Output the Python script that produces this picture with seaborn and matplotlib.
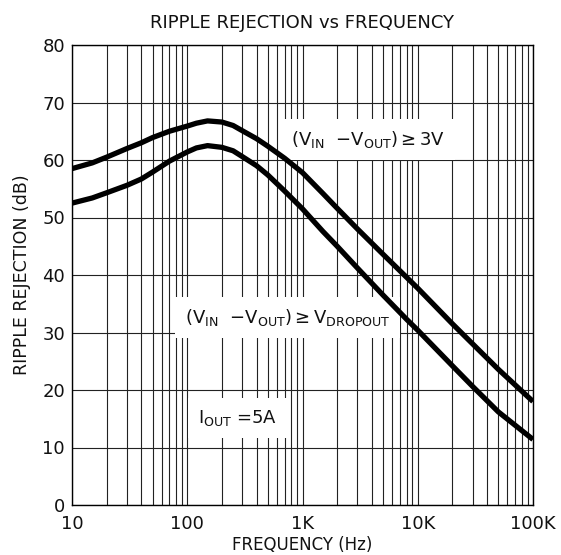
import matplotlib
matplotlib.use("Agg")
import matplotlib.pyplot as plt
import seaborn as sns
import pandas as pd
from matplotlib.ticker import FixedLocator, NullFormatter, LogLocator

# ---- data ----
freq_hz = [10, 15, 20, 30, 40, 50, 70, 100, 120, 150, 200, 250, 300, 400, 500, 700,
           1000, 1500, 2000, 3000, 5000, 8000, 10000, 20000, 30000, 50000, 100000]
rej_3v_db = [58.5, 59.5, 60.5, 62.0, 63.0, 63.9, 65.0, 65.9, 66.4, 66.8, 66.6, 66.0, 65.1,
             63.7, 62.4, 60.3, 57.8, 54.2, 51.6, 48.0, 43.6, 39.6, 37.7, 31.5, 28.0, 23.6, 18.0]
rej_drop_db = [52.5, 53.4, 54.3, 55.6, 56.7, 57.9, 59.8, 61.4, 62.1, 62.5, 62.2, 61.6, 60.6,
               59.0, 57.4, 54.6, 51.5, 47.6, 45.0, 41.2, 36.5, 32.3, 30.4, 24.2, 20.6, 16.2, 11.4]
series_names = ["3V", "DROPOUT"]
x_ticks = [10, 100, 1000, 10000, 100000]
x_tick_labels = ["10", "100", "1K", "10K", "100K"]
y_ticks = [0, 10, 20, 30, 40, 50, 60, 70, 80]

df = pd.DataFrame({
    "freq": freq_hz * 2,
    "db": rej_3v_db + rej_drop_db,
    "series": [series_names[0]] * len(freq_hz) + [series_names[1]] * len(freq_hz),
})

sns.set_style("white")
plt.rcParams["font.family"] = ["DejaVu Sans"]
plt.rcParams["mathtext.default"] = "regular"

fig = plt.figure(figsize=(5.61, 5.55), dpi=100)
ax = fig.add_axes([72 / 561, 50 / 555, 461 / 561, 460 / 555])

sns.lineplot(data=df, x="freq", y="db", hue="series", palette=["black", "black"],
             estimator=None, sort=False, linewidth=3.8, legend=False, ax=ax, zorder=5)
for ln in ax.lines:
    ln.set_solid_joinstyle("round")
    ln.set_solid_capstyle("butt")

ax.set_xscale("log")
ax.set_xlim(10, 100000)
ax.set_ylim(0, 80)

ax.xaxis.set_major_locator(FixedLocator(x_ticks))
ax.set_xticklabels(x_tick_labels)
ax.xaxis.set_minor_locator(LogLocator(base=10, subs=range(2, 10), numticks=20))
ax.xaxis.set_minor_formatter(NullFormatter())
ax.set_yticks(y_ticks)
ax.set_yticklabels([str(v) for v in y_ticks])

ax.grid(True, which="major", axis="both", color="#222222", linewidth=0.8)
ax.grid(True, which="minor", axis="x", color="#222222", linewidth=0.8)
ax.tick_params(axis="both", which="both", length=0, labelsize=13, colors="#111111")
ax.tick_params(axis="x", pad=7)
ax.tick_params(axis="y", pad=5)

for s in ax.spines.values():
    s.set_color("black")
    s.set_linewidth(1.0)

ax.set_xlabel("FREQUENCY (Hz)", fontsize=12, color="#111111", labelpad=2)
ax.set_ylabel("RIPPLE REJECTION (dB)", fontsize=12.5, color="#111111", labelpad=8)
ax.set_title("RIPPLE REJECTION vs FREQUENCY", fontsize=13, color="#111111", pad=12)

box = dict(boxstyle="square,pad=0.55", facecolor="white", edgecolor="none")
ax.text(3700, 63.5, r"(V$_{IN}$  $-$V$_{OUT}$)$\geq$3V", fontsize=13, ha="center",
        va="center", bbox=box, zorder=4, color="#111111")
ax.text(740, 32.6, r"(V$_{IN}$  $-$V$_{OUT}$)$\geq$V$_{DROPOUT}$", fontsize=13, ha="center",
        va="center", bbox=box, zorder=4, color="#111111")
ax.text(124, 15.2, r"I$_{OUT}$ =5A", fontsize=13, ha="left",
        va="center", bbox=box, zorder=4, color="#111111")

fig.savefig("out.png", dpi=100)
